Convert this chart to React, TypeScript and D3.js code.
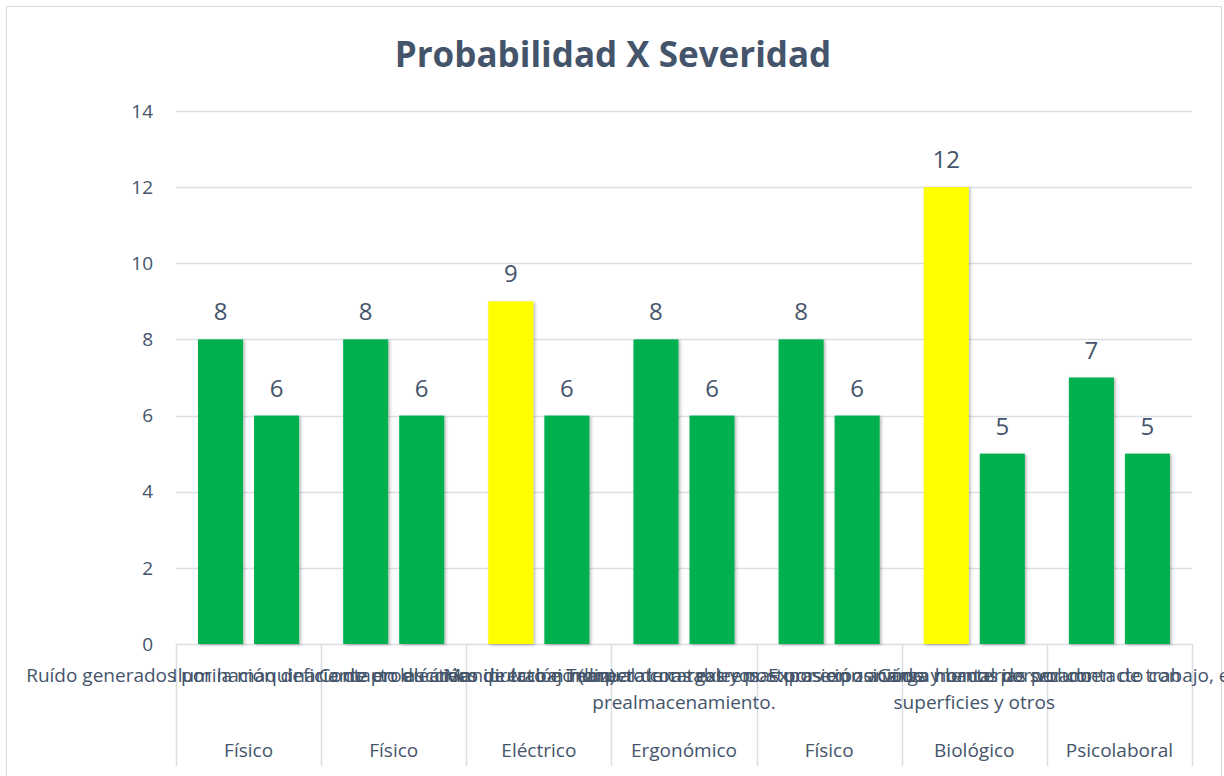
import React, { useEffect, useRef } from 'react';
import * as d3 from 'd3';

// categorias (nivel interior) y su grupo (nivel exterior)
const descripciones = [
  ['Ruído generados por la maquinaria de producción'],
  ['Iluminación deficiente en las áreas de trabajo (luz)'],
  ['Contacto eléctrico directo e indirecto con tableros'],
  ['Manipulación manual de cargas y posturas en zona de', 'prealmacenamiento.'],
  ['Temperaturas extremas por exposición a hornos de secado'],
  ['Exposición a virus y bacterias por contacto con', 'superficies y otros'],
  ['Carga mental por volumen de trabajo, el cumplimiento'],
];
const tipos = ['Físico', 'Físico', 'Eléctrico', 'Ergonómico', 'Físico', 'Biológico', 'Psicolaboral'];

const probabilidad = [8, 8, 9, 8, 8, 12, 7];
const severidad = [6, 6, 6, 6, 6, 5, 5];
// puntos resaltados de la primera serie
const resaltados = [false, false, true, false, false, true, false];

const yTicks = [0, 2, 4, 6, 8, 10, 12, 14];

const W = 1224;
const H = 776;
const TEXT = '#44546A';
const GRID = '#DADFE6';
const VERDE = '#00B050';
const AMARILLO = '#FFFF00';
const FONT = '"Open Sans", sans-serif';

export default function App() {
  const ref = useRef<SVGSVGElement>(null);

  useEffect(() => {
    const svg = d3.select(ref.current);
    svg.selectAll('*').remove();

    const left = 176, right = 1192, top = 111, bottom = 644;

    const defs = svg.append('defs');
    const f = defs.append('filter').attr('id', 'sombra')
      .attr('x', '-20%').attr('y', '-20%').attr('width', '150%').attr('height', '150%');
    f.append('feDropShadow').attr('dx', 1.5).attr('dy', 1).attr('stdDeviation', 1.5)
      .attr('flood-color', '#000').attr('flood-opacity', 0.3);

    // borde del grafico
    svg.append('rect')
      .attr('x', 6.5).attr('y', 6.5).attr('width', 1215).attr('height', 800)
      .attr('fill', '#fff').attr('stroke', '#D9D9D9');

    svg.append('text')
      .attr('x', 613).attr('y', 67)
      .attr('text-anchor', 'middle')
      .attr('font-family', FONT).attr('font-weight', 700).attr('font-size', 35)
      .attr('fill', TEXT)
      .text('Probabilidad X Severidad');

    const y = d3.scaleLinear().domain([0, 14]).range([bottom, top]);
    const idx = d3.range(probabilidad.length).map(String);
    const x0 = d3.scaleBand().domain(idx).range([left, right]);
    const x1 = d3.scaleBand().domain(['p', 's']).range([0, x0.bandwidth()])
      .paddingInner(0.196).paddingOuter(0.393);

    // rejilla
    svg.append('g').selectAll('line').data(yTicks).enter().append('line')
      .attr('x1', left).attr('x2', right)
      .attr('y1', (d) => Math.round(y(d)) + 0.5).attr('y2', (d) => Math.round(y(d)) + 0.5)
      .attr('stroke', GRID).attr('stroke-width', 1.5);

    svg.append('g').selectAll('text').data(yTicks).enter().append('text')
      .attr('x', 153).attr('y', (d) => y(d)).attr('dy', '0.35em')
      .attr('text-anchor', 'end')
      .attr('font-family', FONT).attr('font-size', 19).attr('fill', TEXT)
      .text((d) => d);

    const datos = idx.map((k, i) => [
      { key: 'p', i, v: probabilidad[i], color: resaltados[i] ? AMARILLO : VERDE },
      { key: 's', i, v: severidad[i], color: VERDE },
    ]);

    const grupos = svg.append('g').selectAll('g').data(datos).enter().append('g')
      .attr('transform', (d, i) => 'translate(' + x0(String(i)) + ',0)');

    grupos.selectAll('rect').data((d) => d).enter().append('rect')
      .attr('x', (d) => x1(d.key))
      .attr('y', (d) => y(d.v))
      .attr('width', x1.bandwidth())
      .attr('height', (d) => y(0) - y(d.v))
      .attr('fill', (d) => d.color)
      .attr('filter', 'url(#sombra)');

    grupos.selectAll('text').data((d) => d).enter().append('text')
      .attr('x', (d) => x1(d.key)! + x1.bandwidth() / 2)
      .attr('y', (d) => y(d.v) - 19)
      .attr('text-anchor', 'middle')
      .attr('font-family', FONT).attr('font-size', 24).attr('fill', TEXT)
      .text((d) => d.v);

    // separadores del eje de categorias
    const bordes = idx.map((k) => x0(k)!).concat([right]);
    svg.append('g').selectAll('line').data(bordes).enter().append('line')
      .attr('x1', (d) => Math.round(d) + 0.5).attr('x2', (d) => Math.round(d) + 0.5)
      .attr('y1', bottom).attr('y2', 766)
      .attr('stroke', GRID).attr('stroke-width', 1.5);

    // etiquetas interiores (se solapan, como en el original)
    const etiquetas = svg.append('g');
    descripciones.forEach((lineas, i) => {
      const cx = x0(String(i))! + x0.bandwidth() / 2;
      lineas.forEach((t, j) => {
        etiquetas.append('text')
          .attr('x', cx).attr('y', 682 + j * 27)
          .attr('text-anchor', 'middle')
          .attr('font-family', FONT).attr('font-size', 19).attr('fill', TEXT)
          .text(t);
      });
    });

    svg.append('g').selectAll('text').data(tipos).enter().append('text')
      .attr('x', (d, i) => x0(String(i))! + x0.bandwidth() / 2)
      .attr('y', 757)
      .attr('text-anchor', 'middle')
      .attr('font-family', FONT).attr('font-size', 19).attr('fill', TEXT)
      .text((d) => d);
  }, []);

  return (
    <div style={{ position: 'absolute', left: 0, top: 0 }}>
      <svg ref={ref} width={W} height={H} style={{ display: 'block' }}></svg>
    </div>
  );
}
